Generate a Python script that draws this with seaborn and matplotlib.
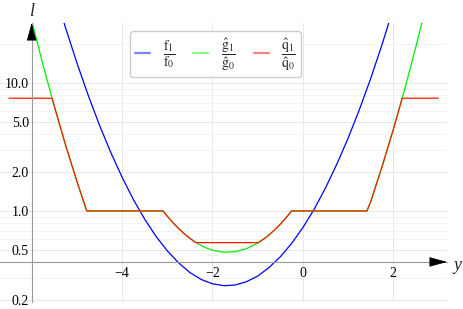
import numpy as np
import pandas as pd
import seaborn as sns
import matplotlib.pyplot as plt
from matplotlib.lines import Line2D
from matplotlib.ticker import FixedLocator, FixedFormatter, MultipleLocator, NullFormatter, LogLocator

# values (log scale on the vertical axis)
blue_x = [-5.5, -5.25, -5.0, -4.75, -4.5, -4.25, -4.0, -3.75, -3.5, -3.25, -3.0, -2.75,
          -2.5, -2.25, -2.0, -1.75, -1.5, -1.25, -1.0, -0.75, -0.5, -0.25, 0.0, 0.25,
          0.5, 0.75, 1.0, 1.25, 1.5, 1.75, 2.0]
blue_y = [53.0, 27.0, 14.4, 8.04, 4.69, 2.87, 1.84, 1.23, 0.865, 0.635, 0.489, 0.394,
          0.331, 0.292, 0.270, 0.261, 0.264, 0.280, 0.310, 0.361, 0.438, 0.557, 0.741, 1.03,
          1.51, 2.31, 3.69, 6.17, 10.8, 19.8, 38.1]

green_x = [-6.1, -5.75, -5.5, -5.25, -5.0, -4.78, -3.09, -3.0, -2.875, -2.75, -2.625, -2.5,
           -2.375, -2.25, -2.125, -2.0, -1.75, -1.5, -1.25, -1.0, -0.875, -0.75, -0.625,
           -0.5, -0.375, -0.25, 1.42, 1.5, 1.75, 2.0, 2.25, 2.5, 2.75]
green_y = [42.9, 13.9, 6.61, 3.28, 1.71, 1.0, 1.0, 0.912, 0.811, 0.731, 0.665, 0.612,
           0.571, 0.538, 0.513, 0.494, 0.476, 0.481, 0.507, 0.561, 0.600, 0.649, 0.711,
           0.787, 0.881, 1.0, 1.0, 1.18, 2.20, 4.31, 8.85, 19.1, 42.9]

red_x = [-6.5, -5.55, -5.5, -5.25, -5.0, -4.78, -3.09, -3.0, -2.875, -2.75, -2.625, -2.5,
         -2.37, -0.99, -0.875, -0.75, -0.625, -0.5, -0.375, -0.25, 1.42, 1.5, 1.75, 2.0,
         2.2, 3.0]
red_y = [7.6, 7.6, 6.61, 3.28, 1.71, 1.0, 1.0, 0.912, 0.811, 0.731, 0.665, 0.612,
         0.566, 0.566, 0.600, 0.649, 0.711, 0.787, 0.881, 1.0, 1.0, 1.18, 2.20, 4.31,
         7.6, 7.6]

y_ticks = [0.2, 0.5, 1.0, 2.0, 5.0, 10.0]
y_tick_labels = ['0.2', '0.5', '1.0', '2.0', '5.0', '10.0']
x_ticks = [-4, -2, 0, 2]
legend_labels = [r'$\dfrac{\mathrm{f}_1}{\mathrm{f}_0}$',
                 r'$\dfrac{\hat{\mathrm{g}}_1}{\hat{\mathrm{g}}_0}$',
                 r'$\dfrac{\hat{\mathrm{q}}_1}{\hat{\mathrm{q}}_0}$']

sns.set_theme(style='white')
plt.rcParams['font.family'] = ['Liberation Serif', 'DejaVu Serif']
plt.rcParams['mathtext.fontset'] = 'stix'

W, H = 463, 309
fig = plt.figure(figsize=(W / 100, H / 100), dpi=100)
ax = fig.add_axes([0, 1 - 302 / H, 447 / W, (302 - 23) / H])

ax.set_yscale('log')
ax.set_xlim(-6.70, 3.19)
ax.set_ylim(0.1946, 29.4)

# grid
ax.set_axisbelow(True)
ax.xaxis.set_major_locator(FixedLocator(x_ticks))
ax.xaxis.set_minor_locator(MultipleLocator(0.5))
ax.yaxis.set_major_locator(FixedLocator(y_ticks))
ax.yaxis.set_major_formatter(FixedFormatter(y_tick_labels))
ax.yaxis.set_minor_locator(LogLocator(base=10, subs=[2, 3, 4, 5, 6, 7, 8, 9]))
ax.yaxis.set_minor_formatter(NullFormatter())
ax.grid(which='major', axis='both', color='#e8e8e8', lw=0.7)
ax.grid(which='minor', axis='y', color='#f3f3f3', lw=0.7)

# curves
sns.lineplot(x=blue_x, y=blue_y, color='#0000ff', lw=0.9, ax=ax, sort=False)
sns.lineplot(x=green_x, y=green_y, color='#00ee00', lw=0.9, ax=ax, sort=False)
sns.lineplot(x=red_x, y=red_y, color='#ff1a00', lw=0.9, ax=ax, sort=False)

# axes crossing at (-6, 0.4)
for s in ['top', 'right']:
    ax.spines[s].set_visible(False)
ax.spines['bottom'].set_position(('data', 0.4))
ax.spines['left'].set_position(('data', -6))
for s in ['bottom', 'left']:
    ax.spines[s].set_color('#999999')
    ax.spines[s].set_linewidth(0.8)
    ax.spines[s].set_visible(True)

ax.tick_params(axis='both', which='both', direction='in', color='#999999', width=0.6)
ax.tick_params(axis='both', which='major', length=4, labelsize=10, labelcolor='black')
ax.tick_params(axis='both', which='minor', length=2.3)
ax.tick_params(axis='x', which='major', pad=4)
ax.tick_params(axis='y', which='major', pad=2)

# arrow heads
ax.annotate('', xy=(3.19, 0.4), xytext=(-13, 0), textcoords='offset pixels',
            arrowprops=dict(arrowstyle='-|>,head_length=0.95,head_width=0.26',
                            color='black', lw=0.5, shrinkA=0, shrinkB=0),
            annotation_clip=False)
ax.annotate('', xy=(-6, 29.4), xytext=(0, -13), textcoords='offset pixels',
            arrowprops=dict(arrowstyle='-|>,head_length=0.95,head_width=0.26',
                            color='black', lw=0.5, shrinkA=0, shrinkB=0),
            annotation_clip=False)

fig.text(32 / W, 1 - 11 / H, 'l', style='italic', fontsize=13, ha='center', va='center')
fig.text(457 / W, 1 - 265 / H, 'y', style='italic', fontsize=13, ha='center', va='center')

handles = [Line2D([], [], color='#8080ff', lw=1.6),
           Line2D([], [], color='#80ff80', lw=1.6),
           Line2D([], [], color='#ff8080', lw=1.6)]
ax.legend(handles, legend_labels, ncol=3, loc='upper center',
          bbox_to_anchor=(215.5 / W, 1 - 24 / H), bbox_transform=fig.transFigure,
          fontsize=10, handlelength=1.1, handletextpad=0.9, columnspacing=1.3,
          frameon=True, framealpha=1, edgecolor='#cccccc', fancybox=True,
          borderpad=0.35)

fig.savefig('out.png', dpi=100)
